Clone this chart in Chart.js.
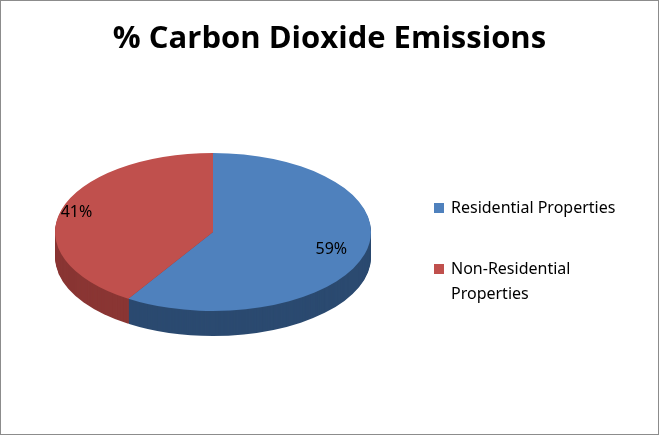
<!DOCTYPE html>
<html>
<head>
<meta charset="utf-8">
<script src="https://cdn.jsdelivr.net/npm/chart.js@4"></script>
<style>
  body { margin: 0; background: #fff; }
  #wrap { width: 657px; height: 433px; border: 1px solid #8c8c8c; position: relative; }
</style>
</head>
<body>
<div id="wrap"><canvas id="pie-chart" width="657" height="433"></canvas></div>
<script>
var labels = ["Residential Properties", "Non-Residential Properties"];
var legendLines = [["Residential Properties"], ["Non-Residential", "Properties"]];
var values = [59, 41];
var topColors = ["#4F81BD", "#C0504D"];
var sideColors = ["#2B4A70", "#8A3634"];

// squash the pie into a tilted ellipse and give it some depth
var cx0 = 212, cy0 = 231, squash = 0.5, depth = 25;

function tilt(ctx, chart, dy) {
  var el = chart.getDatasetMeta(0).data[0];
  ctx.translate(cx0, cy0 + dy);
  ctx.scale(1, squash);
  ctx.translate(-el.x, -el.y);
}

var pie3d = {
  id: 'pie3d',
  beforeDatasetsDraw: function(chart) {
    var ctx = chart.ctx;
    var arcs = chart.getDatasetMeta(0).data;
    for (var d = depth; d >= 1; d--) {
      ctx.save();
      tilt(ctx, chart, d);
      arcs.forEach(function(a, i) {
        ctx.beginPath();
        ctx.moveTo(a.x, a.y);
        ctx.arc(a.x, a.y, a.outerRadius, a.startAngle, a.endAngle);
        ctx.closePath();
        ctx.fillStyle = sideColors[i];
        ctx.fill();
      });
      ctx.restore();
    }
    ctx.save();
    tilt(ctx, chart, 0);
  },
  afterDatasetsDraw: function(chart) {
    var ctx = chart.ctx;
    ctx.restore();
    var arcs = chart.getDatasetMeta(0).data;
    ctx.save();
    ctx.font = '16px "Noto Sans", sans-serif';
    ctx.fillStyle = '#000';
    ctx.textAlign = 'center';
    ctx.textBaseline = 'middle';
    var rf = [0.78, 0.9];
    arcs.forEach(function(a, i) {
      var mid = (a.startAngle + a.endAngle) / 2;
      var r = a.outerRadius * rf[i];
      var x = cx0 + Math.cos(mid) * r;
      var y = cy0 + Math.sin(mid) * r * squash;
      ctx.fillText(values[i] + '%', x, y);
    });
    // legend
    ctx.textAlign = 'left';
    var ly = [207, 268];
    legendLines.forEach(function(lines, i) {
      ctx.fillStyle = topColors[i];
      ctx.fillRect(433, ly[i] - 5, 10, 10);
      ctx.fillStyle = '#000';
      lines.forEach(function(t, j) {
        ctx.fillText(t, 450, ly[i] + j * 25);
      });
    });
    ctx.restore();
  }
};

new Chart(document.getElementById("pie-chart"), {
  type: 'pie',
  data: {
    labels: labels,
    datasets: [{
      data: values,
      backgroundColor: topColors,
      borderWidth: 0
    }]
  },
  plugins: [pie3d],
  options: {
    responsive: false,
    animation: false,
    radius: 158,
    events: [],
    plugins: {
      legend: { display: false },
      tooltip: { enabled: false },
      title: {
        display: true,
        text: '% Carbon Dioxide Emissions',
        color: '#000',
        font: { size: 31, weight: 'bold', family: '"Open Sans", sans-serif' },
        padding: { top: 20, bottom: 10 }
      }
    }
  }
});
</script>
</body>
</html>
